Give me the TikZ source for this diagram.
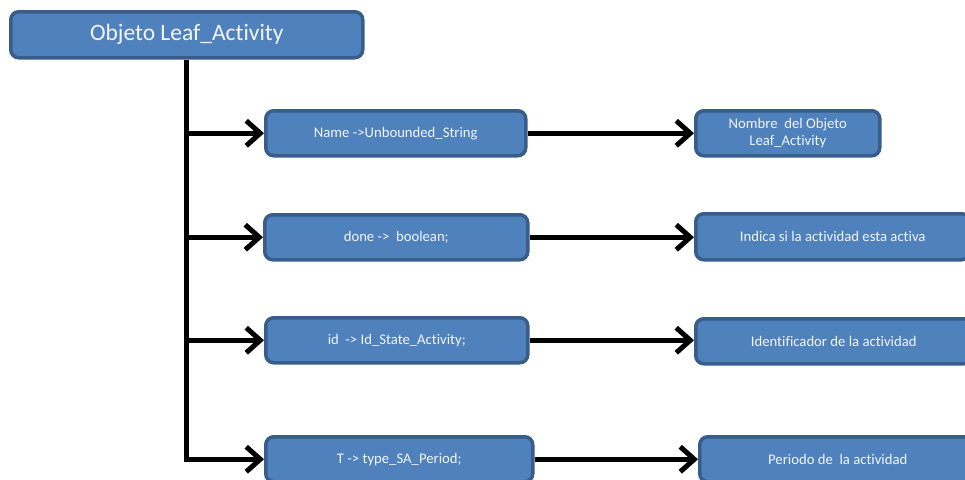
\documentclass[tikz,border=0pt]{standalone}
\usepackage{fontspec}
\setmainfont{Carlito}[Ligatures=NoCommon]
\usetikzlibrary{arrows.meta}
\definecolor{boxfill}{HTML}{4F81BD}
\definecolor{boxline}{HTML}{385D8A}
\definecolor{boxtext}{HTML}{F2F5FA}
\begin{document}
\begin{tikzpicture}[x=1pt,y=-1pt,
  blk/.style={draw=boxline, fill=boxfill, line width=3.5pt, rounded corners=8pt,
    text=boxtext, align=center, inner sep=0pt, anchor=north west,
    font=\fontsize{14.7}{17.5}\selectfont},
  conn/.style={line width=5pt, draw=black,
    -{Straight Barb[length=14pt,width=25pt,line width=5pt]}}]
\useasboundingbox (0,0) rectangle (965,479);
\clip (0,0) rectangle (965,479);

% title
\node[blk, minimum width=352pt, minimum height=46pt,
  font=\fontsize{23.5}{28}\selectfont] (title) at (9,10) {Objeto Leaf\_Activity};

% attribute boxes
\node[blk, minimum width=260pt, minimum height=45pt] (b1) at (264,109) {Name ->Unbounded\_String};
\node[blk, minimum width=263pt, minimum height=45pt] (b2) at (263,213) {done ->\ \ boolean;};
\node[blk, minimum width=262pt, minimum height=45pt] (b3) at (264,316) {id\ \ -> Id\_State\_Activity;};
\node[blk, minimum width=267pt, minimum height=45pt] (b4) at (264,435) {T -> type\_SA\_Period;};

% description boxes
\node[blk, minimum width=184pt, minimum height=45pt] (d1) at (694,109) {Nombre\ \ del Objeto\\Leaf\_Activity};
\node[blk, minimum width=274pt, minimum height=46pt] (d2) at (694,212) {Indica si la actividad esta activa};
\node[blk, minimum width=276pt, minimum height=45pt] (d3) at (694,317) {Identificador de la actividad};
\node[blk, minimum width=276pt, minimum height=45pt] (d4) at (698,435) {Periodo de\ \ la actividad};

% trunk and branches
\draw[conn] (title.south) |- (b4.west);
\draw[conn] (title.south |- b1.west) -- (b1.west);
\draw[conn] (title.south |- b2.west) -- (b2.west);
\draw[conn] (title.south |- b3.west) -- (b3.west);

% links to descriptions
\draw[conn] (b1.east) -- (b1.east -| d1.west);
\draw[conn] (b2.east) -- (b2.east -| d2.west);
\draw[conn] (b3.east) -- (b3.east -| d3.west);
\draw[conn] (b4.east) -- (b4.east -| d4.west);
\end{tikzpicture}
\end{document}
